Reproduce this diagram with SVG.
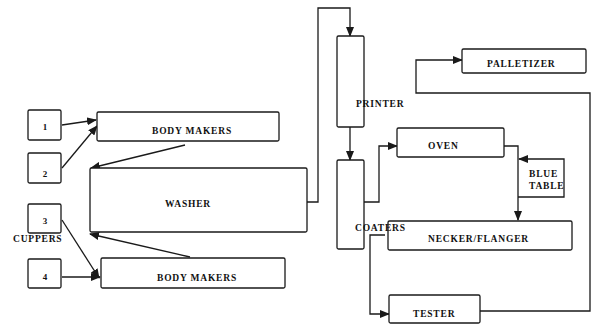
<svg xmlns="http://www.w3.org/2000/svg" width="592" height="325" viewBox="0 0 592 325">
<style>
.box{fill:#fff;stroke:#1a1a1a;stroke-width:1.3}
.ln{fill:none;stroke:#1a1a1a;stroke-width:1.3}
.t{font-family:"Liberation Serif","Times New Roman",serif;font-weight:bold;font-size:9.5px;letter-spacing:0.8px;fill:#111}
.n{font-family:"Liberation Serif","Times New Roman",serif;font-weight:bold;font-size:9px;fill:#111;text-anchor:middle}
</style>
<defs>
<marker id="ah" markerUnits="userSpaceOnUse" markerWidth="10" markerHeight="8" refX="9" refY="4" orient="auto">
<path d="M0,0 L10,4 L0,8 Z" fill="#1a1a1a"/>
</marker>
</defs>
<rect width="592" height="325" fill="#fff"/>
<g id="connectors">
<path class="ln" d="M62,125 L96,120" marker-end="url(#ah)"/>
<path class="ln" d="M62,168 L97,126" marker-end="url(#ah)"/>
<path class="ln" d="M185,145 L91,168" marker-end="url(#ah)"/>
<path class="ln" d="M62,220 L99,278" marker-end="url(#ah)"/>
<path class="ln" d="M62,277 L100,277" marker-end="url(#ah)"/>
<path class="ln" d="M190,257 L90,234" marker-end="url(#ah)"/>
<path class="ln" d="M307,202 H318 V8 H350 V36" marker-end="url(#ah)"/>
<path class="ln" d="M350,127 V160" marker-end="url(#ah)"/>
<path class="ln" d="M364,202 H379 V146 H397" marker-end="url(#ah)"/>
<path class="ln" d="M504,146 H518 V220" marker-end="url(#ah)"/>
<path class="ln" d="M518,197 H564 V159 H519" marker-end="url(#ah)"/>
<path class="ln" d="M385,235 H370 V314 H389" marker-end="url(#ah)"/>
<path class="ln" d="M480,311 H590 V93 H416 V60 H462" marker-end="url(#ah)"/>
</g>
<g id="cupper1"><rect class="box" x="28" y="110" width="33" height="30" rx="1.5"/><text class="n" x="45" y="130">1</text></g>
<g id="cupper2"><rect class="box" x="28" y="153" width="33" height="30" rx="1.5"/><text class="n" x="45" y="177">2</text></g>
<g id="cupper3"><rect class="box" x="28" y="204" width="33" height="29" rx="1.5"/><text class="n" x="45" y="224">3</text></g>
<g id="cupper4"><rect class="box" x="28" y="259" width="33" height="29" rx="1.5"/><text class="n" x="45" y="280">4</text></g>
<g id="cuppers-label"><text class="t" x="13" y="242">CUPPERS</text></g>
<g id="bodymakers-top"><rect class="box" x="97" y="112" width="182" height="29" rx="1.5"/><text class="t" x="152" y="134">BODY MAKERS</text></g>
<g id="washer"><rect class="box" x="90" y="168" width="217" height="64" rx="1.5"/><text class="t" x="165" y="207">WASHER</text></g>
<g id="bodymakers-bottom"><rect class="box" x="101" y="258" width="184" height="30" rx="1.5"/><text class="t" x="157" y="281">BODY MAKERS</text></g>
<g id="printer"><rect class="box" x="337" y="36" width="27" height="91" rx="1.5"/><text class="t" x="356" y="107">PRINTER</text></g>
<g id="oven"><rect class="box" x="397" y="128" width="107" height="29" rx="1.5"/><text class="t" x="428" y="149">OVEN</text></g>
<g id="bluetable"><text class="t" x="529" y="177">BLUE</text><text class="t" x="529" y="189">TABLE</text></g>
<g id="necker"><rect class="box" x="388" y="221" width="184" height="29" rx="1.5"/><text class="t" x="428" y="242">NECKER/FLANGER</text></g>
<g id="coaters"><rect class="box" x="337" y="160" width="27" height="89" rx="1.5"/><text class="t" x="355" y="231">COATERS</text></g>
<g id="tester"><rect class="box" x="389" y="295" width="91" height="28" rx="1.5"/><text class="t" x="413" y="317">TESTER</text></g>
<g id="palletizer"><rect class="box" x="462" y="49" width="124" height="24" rx="1.5"/><text class="t" x="487" y="67">PALLETIZER</text></g>
</svg>
